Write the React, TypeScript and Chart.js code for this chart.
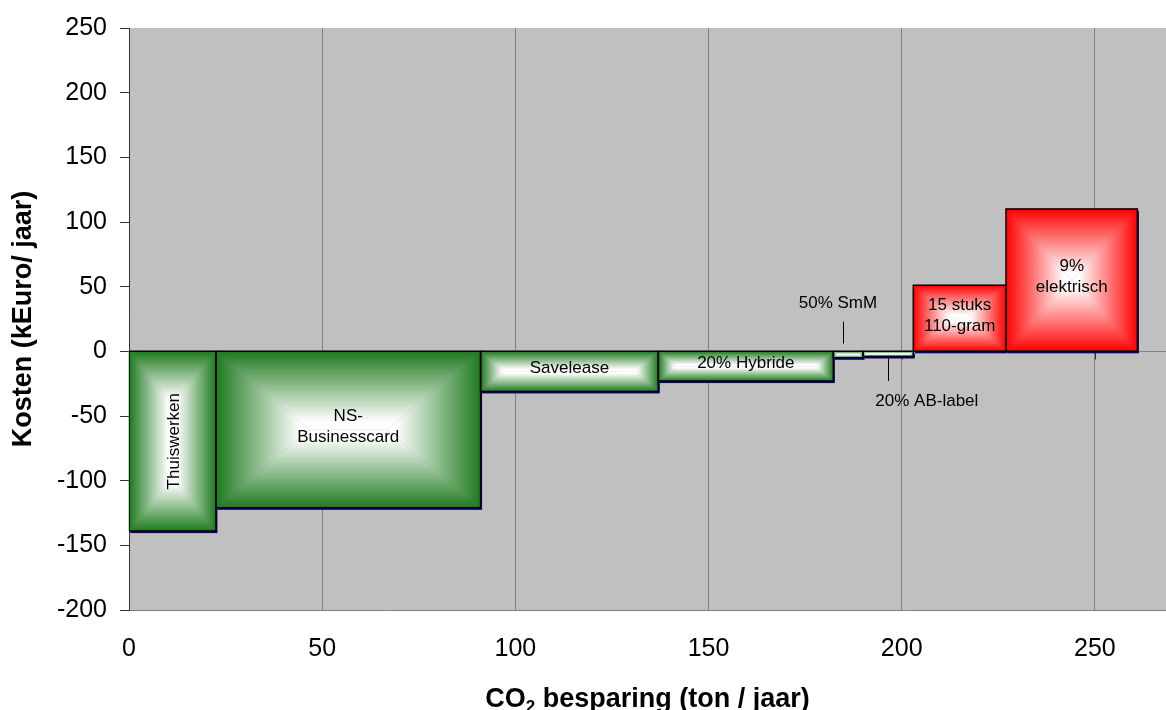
import { useEffect, useRef } from 'react';
import { Chart, registerables } from 'chart.js';

Chart.register(...registerables);

// maatregelen, in volgorde van kosten per ton
const measures = ['Thuiswerken', 'NS-\nBusinesscard', 'Savelease', '20% Hybride', '50% SmM', '20% AB-label', '15 stuks\n110-gram', '9%\nelektrisch'];
const savings = [22.5, 68.5, 46, 45.3, 7.7, 13, 24, 34]; // ton CO2 / jaar (breedte)
const costs = [-139, -121, -31, -23, -5, -4, 51, 110]; // kEuro / jaar (hoogte)
const labelMode = ['vertical', 'inside', 'inside', 'inside', 'callout', 'callout', 'inside', 'inside'];

// labels buiten de balk: tekstpositie en verbindingslijn (x, y-van, y-tot)
const calloutMeasures = [4, 5];
const calloutTextAt = [{ x: 183.5, y: 37 }, { x: 206.5, y: -38.5 }];
const calloutLine = [{ x: 184.8, from: 23, to: 6 }, { x: 196.4, from: -5.4, to: -23 }];

const xTicks = [0, 50, 100, 150, 200, 250];
const yTicks = [-200, -150, -100, -50, 0, 50, 100, 150, 200, 250];
const xMax = 268.4;

const FONT = '"Liberation Sans", Arial, sans-serif';
const GREEN = [30, 122, 30];
const RED = [255, 0, 0];

const starts = savings.map((_, i) => savings.slice(0, i).reduce((a, b) => a + b, 0));

function tint(rgb: number[], t: number) {
  const m = Math.min(1, t / 0.9);
  const c = rgb.map(v => Math.round(v + (255 - v) * m));
  return `rgb(${c[0]},${c[1]},${c[2]})`;
}

type Box = { l: number; t: number; r: number; b: number };

function boxOf(chart: Chart, i: number): Box {
  const pts = chart.getDatasetMeta(i).data as any[];
  const a = pts[0], c = pts[2];
  return { l: Math.min(a.x, c.x), r: Math.max(a.x, c.x), t: Math.min(a.y, c.y), b: Math.max(a.y, c.y) };
}

// rechthoekig verloop van de rand naar het midden
function boxGradient(ctx: CanvasRenderingContext2D, bx: Box, rgb: number[]) {
  const { l, t, r, b } = bx;
  const w = r - l, h = b - t;
  const cx = (l + r) / 2, cy = (t + b) / 2;
  const R = 1.2;
  let ax = 0, ay = 0;
  if (w >= h) ax = Math.max(0, (w - R * h) / 2);
  else ay = Math.max(0, (h - R * w) / 2);
  const il = cx - ax, ir = cx + ax, it = cy - ay, ib = cy + ay;

  const piece = (pts: number[][], x0: number, y0: number, x1: number, y1: number) => {
    const g = ctx.createLinearGradient(x0, y0, x1, y1);
    for (let k = 0; k <= 10; k++) g.addColorStop(k / 10, tint(rgb, k / 10));
    ctx.beginPath();
    ctx.moveTo(pts[0][0], pts[0][1]);
    for (let k = 1; k < pts.length; k++) ctx.lineTo(pts[k][0], pts[k][1]);
    ctx.closePath();
    ctx.fillStyle = g;
    ctx.fill();
    ctx.strokeStyle = g;
    ctx.lineWidth = 0.6;
    ctx.stroke();
  };
  piece([[l, t], [r, t], [ir, it], [il, it]], 0, t, 0, it);
  piece([[l, b], [r, b], [ir, ib], [il, ib]], 0, b, 0, ib);
  piece([[l, t], [il, it], [il, ib], [l, b]], l, 0, il, 0);
  piece([[r, t], [ir, it], [ir, ib], [r, b]], r, 0, ir, 0);
}

const macPlugin = {
  id: 'macCurve',
  beforeDraw(chart: Chart) {
    const { ctx, chartArea: a } = chart;
    ctx.save();
    ctx.fillStyle = '#C0C0C0';
    ctx.fillRect(a.left, a.top, a.right - a.left, a.bottom - a.top);
    ctx.restore();
  },
  beforeDatasetsDraw(chart: Chart) {
    const { ctx, chartArea: a } = chart;
    const x = chart.scales.x, y = chart.scales.y;
    const y0 = Math.round(y.getPixelForValue(0)) + 0.5;
    ctx.save();
    ctx.lineWidth = 1;
    ctx.strokeStyle = '#808080';
    ctx.beginPath();
    ctx.moveTo(a.left, y0);
    ctx.lineTo(a.right, y0);
    ctx.stroke();
    ctx.strokeStyle = '#333';
    x.ticks.forEach(tk => {
      const px = Math.round(x.getPixelForValue(tk.value)) + 0.5;
      ctx.beginPath();
      ctx.moveTo(px, y0);
      ctx.lineTo(px, y0 + 8);
      ctx.stroke();
    });
    const boxes = chart.data.datasets.map((_, i) => boxOf(chart, i));
    ctx.fillStyle = '#000080';
    boxes.forEach(bx => ctx.fillRect(bx.l + 1.5, bx.t + 2, bx.r - bx.l, bx.b - bx.t));
    boxes.forEach((bx, i) => boxGradient(ctx, bx, costs[i] < 0 ? GREEN : RED));
    ctx.restore();
  },
  afterDatasetsDraw(chart: Chart) {
    const { ctx } = chart;
    const x = chart.scales.x, y = chart.scales.y;
    ctx.save();
    ctx.font = `17px ${FONT}`;
    ctx.fillStyle = '#000';
    ctx.textAlign = 'center';
    ctx.textBaseline = 'middle';
    measures.forEach((m, i) => {
      const bx = boxOf(chart, i);
      const cx = (bx.l + bx.r) / 2, cy = (bx.t + bx.b) / 2;
      if (labelMode[i] === 'vertical') {
        ctx.save();
        ctx.translate(cx + 2, cy);
        ctx.rotate(-Math.PI / 2);
        ctx.fillText(m, 0, 0);
        ctx.restore();
      } else if (labelMode[i] === 'inside') {
        const lines = m.split('\n');
        const lh = 21;
        lines.forEach((ln, k) => ctx.fillText(ln, cx, cy - 3 + (k - (lines.length - 1) / 2) * lh));
      }
    });
    ctx.strokeStyle = '#000';
    ctx.lineWidth = 1;
    calloutMeasures.forEach((mi, k) => {
      const p = calloutTextAt[k];
      ctx.fillText(measures[mi], x.getPixelForValue(p.x), y.getPixelForValue(p.y));
      const ln = calloutLine[k];
      const lx = Math.round(x.getPixelForValue(ln.x)) + 0.5;
      ctx.beginPath();
      ctx.moveTo(lx, y.getPixelForValue(ln.from));
      ctx.lineTo(lx, y.getPixelForValue(ln.to));
      ctx.stroke();
    });
    ctx.restore();
  },
  afterDraw(chart: Chart) {
    const { ctx, chartArea: a } = chart;
    const big = `bold 27px ${FONT}`, small = `bold 17px ${FONT}`;
    const p1 = 'CO', p2 = '2', p3 = ' besparing (ton / jaar)';
    ctx.save();
    ctx.fillStyle = '#000';
    ctx.textBaseline = 'alphabetic';
    ctx.textAlign = 'left';
    ctx.font = big;
    const w1 = ctx.measureText(p1).width, w3 = ctx.measureText(p3).width;
    ctx.font = small;
    const w2 = ctx.measureText(p2).width;
    let sx = (a.left + a.right) / 2 - (w1 + w2 + w3) / 2;
    const base = chart.height - 3;
    ctx.font = big;
    ctx.fillText(p1, sx, base);
    sx += w1;
    ctx.font = small;
    ctx.fillText(p2, sx, base + 5);
    sx += w2;
    ctx.font = big;
    ctx.fillText(p3, sx, base);
    ctx.restore();
  },
};

export default function App() {
  const canvasRef = useRef<HTMLCanvasElement>(null);
  const chartRef = useRef<Chart | null>(null);

  useEffect(() => {
    document.body.style.margin = '0';
    if (!canvasRef.current) return;
    if (chartRef.current) chartRef.current.destroy();
    const ctx = canvasRef.current.getContext('2d');
    if (!ctx) return;

    const datasets = measures.map((m, i) => {
      const x0 = starts[i], x1 = starts[i] + savings[i];
      return {
        label: m,
        data: [
          { x: x0, y: 0 },
          { x: x0, y: costs[i] },
          { x: x1, y: costs[i] },
          { x: x1, y: 0 },
          { x: x0, y: 0 },
        ],
        showLine: true,
        borderColor: '#000',
        borderWidth: 1.5,
        borderJoinStyle: 'miter' as const,
        pointRadius: 0,
        pointHoverRadius: 0,
        fill: false,
        tension: 0,
      };
    });

    chartRef.current = new Chart(ctx, {
      type: 'scatter',
      data: { datasets },
      plugins: [macPlugin],
      options: {
        responsive: true,
        maintainAspectRatio: false,
        animation: false,
        layout: { padding: { top: 25, left: 0, right: 0, bottom: 0 } },
        plugins: {
          legend: { display: false },
          tooltip: { enabled: false },
        },
        scales: {
          x: {
            type: 'linear',
            min: 0,
            max: xMax,
            afterBuildTicks: (ax: any) => { ax.ticks = xTicks.map(v => ({ value: v })); },
            afterFit: (s: any) => { s.height = 100; },
            grid: { color: '#808080', lineWidth: 1, drawTicks: false },
            border: { color: '#808080' },
            ticks: { font: { family: FONT, size: 25 }, color: '#000', padding: 24, maxRotation: 0 },
          },
          y: {
            min: -200,
            max: 250,
            afterBuildTicks: (ax: any) => { ax.ticks = yTicks.map(v => ({ value: v })); },
            afterFit: (s: any) => { s.width = 129; },
            grid: { drawOnChartArea: false, color: '#333', tickLength: 9 },
            border: { color: '#333' },
            ticks: { font: { family: FONT, size: 25 }, color: '#000', padding: 13 },
            title: {
              display: true,
              text: 'Kosten (kEuro/ jaar)',
              font: { family: FONT, size: 27, weight: 'bold' },
              color: '#000',
              padding: { top: 7, bottom: 0 },
            },
          },
        },
      },
    });

    return () => { chartRef.current?.destroy(); };
  }, []);

  return (
    <div style={{ position: 'relative', width: 1166, height: 710 }}>
      <canvas ref={canvasRef} />
    </div>
  );
}
